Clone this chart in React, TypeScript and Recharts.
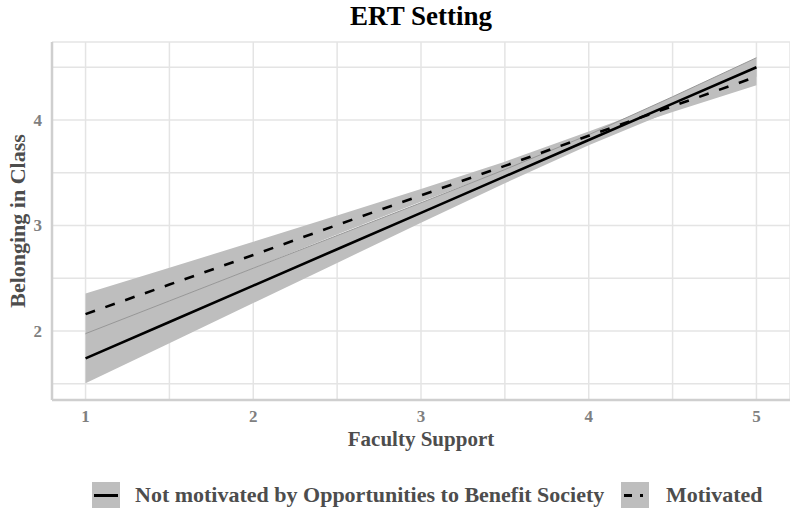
import React from 'react';
import { ComposedChart, Area, Line, XAxis, YAxis, CartesianGrid, Label } from 'recharts';

// Faculty Support (x)
const facultySupport = [1, 1.5, 2, 2.5, 3, 3.5, 4, 4.5, 5];
// Not motivated by Opportunities to Benefit Society: fitted line and CI
const notMotivatedFit = [1.74, 2.085, 2.43, 2.775, 3.12, 3.465, 3.81, 4.155, 4.5];
const notMotivatedLow = [1.505, 1.885, 2.265, 2.645, 3.025, 3.4, 3.76, 4.09, 4.41];
const notMotivatedHigh = [1.975, 2.285, 2.595, 2.905, 3.215, 3.53, 3.86, 4.22, 4.59];
// Motivated: fitted line and CI
const motivatedFit = [2.16, 2.44, 2.72, 3.005, 3.285, 3.565, 3.85, 4.13, 4.41];
const motivatedLow = [1.965, 2.28, 2.595, 2.915, 3.225, 3.525, 3.81, 4.075, 4.33];
const motivatedHigh = [2.355, 2.6, 2.845, 3.095, 3.345, 3.605, 3.89, 4.185, 4.49];

const xTicks = [1, 1.5, 2, 2.5, 3, 3.5, 4, 4.5, 5];
const yTicks = [1.5, 2, 2.5, 3, 3.5, 4, 4.5];

const chartTitle = 'ERT Setting';
const xTitle = 'Faculty Support';
const yTitle = 'Belonging in Class';
const legendLabels = ['Not motivated by Opportunities to Benefit Society', 'Motivated'];

const data = facultySupport.map((x, i) => ({
  x,
  nmFit: notMotivatedFit[i],
  nmBand: [notMotivatedLow[i], notMotivatedHigh[i]],
  nmHigh: notMotivatedHigh[i],
  mFit: motivatedFit[i],
  mBand: [motivatedLow[i], motivatedHigh[i]],
}));

const FONT = '"Liberation Serif", "Times New Roman", serif';
const BAND = '#bebebe';

const XTick = (props: any) => {
  const { x, y, payload } = props;
  if (!Number.isInteger(payload.value)) return <g />;
  return (
    <text x={x} y={y} dy={14} textAnchor="middle" fill="#7f7f7f" fontFamily={FONT} fontWeight="bold" fontSize={17}>
      {payload.value}
    </text>
  );
};

const YTick = (props: any) => {
  const { x, y, payload } = props;
  if (!Number.isInteger(payload.value)) return <g />;
  return (
    <text x={x} y={y} dx={-2} dy={6} textAnchor="end" fill="#7f7f7f" fontFamily={FONT} fontWeight="bold" fontSize={17}>
      {payload.value}
    </text>
  );
};

const XTitle = (props: any) => {
  const vb = props.viewBox || { x: 52, y: 400, width: 738, height: 50 };
  const cx = vb.x + vb.width / 2;
  return (
    <text x={cx} y={446} textAnchor="middle" fill="#4d4d4d" fontFamily={FONT} fontWeight="bold" fontSize={21}>
      {xTitle}
    </text>
  );
};

const YTitle = (props: any) => {
  const vb = props.viewBox || { x: 0, y: 42, width: 52, height: 358 };
  const cx = 17.5;
  const cy = vb.y + vb.height / 2;
  return (
    <text x={cx} y={cy} dy={7} transform={`rotate(-90 ${cx} ${cy})`} textAnchor="middle" fill="#4d4d4d" fontFamily={FONT} fontWeight="bold" fontSize={22}>
      {yTitle}
    </text>
  );
};

export default function App() {
  return (
    <div style={{ position: 'absolute', left: 0, top: 0, width: 790, height: 508, background: '#fff', overflow: 'hidden' }}>
      <ComposedChart width={790} height={508} data={data} margin={{ top: 42, right: 0, bottom: 58, left: 0 }}>
        <CartesianGrid stroke="#e4e4e4" strokeWidth={1.5} />
        <XAxis
          type="number"
          dataKey="x"
          domain={[0.8, 5.2]}
          ticks={xTicks}
          allowDataOverflow
          height={50}
          axisLine={{ stroke: '#cfcfcf', strokeWidth: 2.5 }}
          tickLine={false}
          tick={<XTick />}
          interval={0}
        >
          <Label content={<XTitle />} />
        </XAxis>
        <YAxis
          type="number"
          domain={[1.346, 4.739]}
          ticks={yTicks}
          allowDataOverflow
          width={52}
          axisLine={{ stroke: '#cfcfcf', strokeWidth: 2.5 }}
          tickLine={false}
          tick={<YTick />}
          interval={0}
        >
          <Label content={<YTitle />} />
        </YAxis>
        <Area dataKey="nmBand" type="linear" fill={BAND} fillOpacity={1} stroke="none" isAnimationActive={false} />
        <Area dataKey="mBand" type="linear" fill={BAND} fillOpacity={1} stroke="none" isAnimationActive={false} />
        <Line dataKey="nmHigh" type="linear" stroke="#979797" strokeWidth={1} dot={false} isAnimationActive={false} />
        <Line dataKey="nmFit" type="linear" stroke="#000" strokeWidth={2.6} dot={false} isAnimationActive={false} />
        <Line dataKey="mFit" type="linear" stroke="#000" strokeWidth={2.6} strokeDasharray="10 11" dot={false} isAnimationActive={false} />
      </ComposedChart>

      <div style={{ position: 'absolute', left: 52, top: 3, width: 738, textAlign: 'center', fontFamily: FONT, fontWeight: 'bold', fontSize: 27, lineHeight: '27px', color: '#000' }}>
        {chartTitle}
      </div>

      <div style={{ position: 'absolute', left: 92, top: 482, width: 28, height: 26, background: BAND }}>
        <div style={{ position: 'absolute', left: 2, top: 12, width: 24, height: 2.6, background: '#000' }} />
      </div>
      <div style={{ position: 'absolute', left: 135, top: 484, fontFamily: FONT, fontWeight: 'bold', fontSize: 22, lineHeight: '22px', color: '#4d4d4d', whiteSpace: 'nowrap' }}>
        {legendLabels[0]}
      </div>
      <div style={{ position: 'absolute', left: 621, top: 482, width: 28, height: 26, background: BAND }}>
        <div style={{ position: 'absolute', left: 3, top: 12, width: 8, height: 2.6, background: '#000' }} />
        <div style={{ position: 'absolute', left: 19, top: 12, width: 3, height: 2.6, background: '#000' }} />
      </div>
      <div style={{ position: 'absolute', left: 666, top: 484, fontFamily: FONT, fontWeight: 'bold', fontSize: 22, lineHeight: '22px', color: '#4d4d4d', whiteSpace: 'nowrap' }}>
        {legendLabels[1]}
      </div>
    </div>
  );
}
